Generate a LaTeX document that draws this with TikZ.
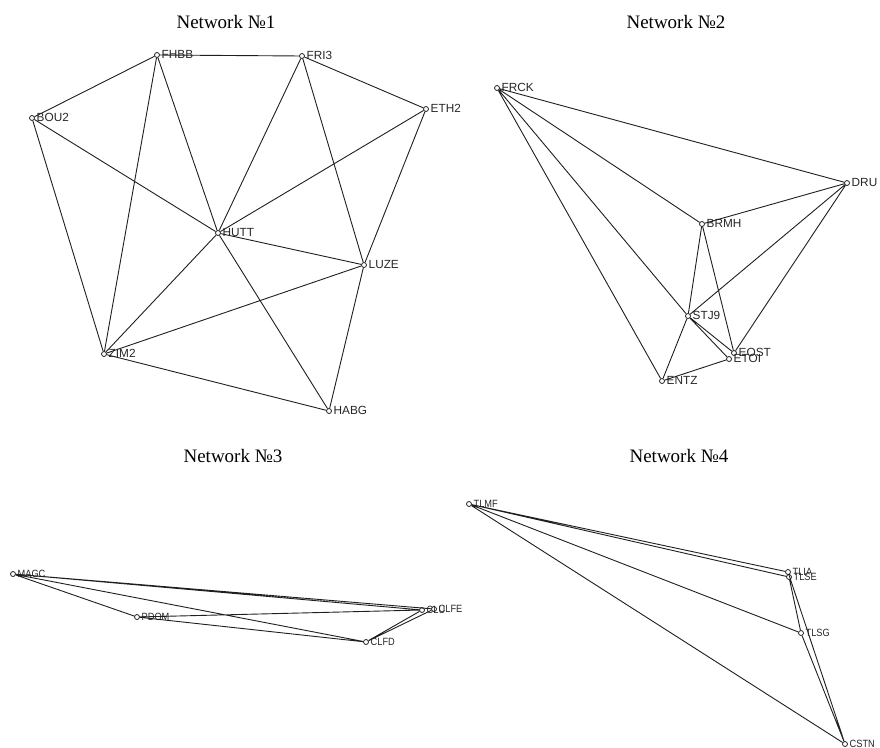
\documentclass[tikz,border=0pt]{standalone}
\usepackage{fontspec}
\setmainfont{Liberation Serif}
\setsansfont{Liberation Sans}
\newfontfamily\narrowsans[FakeStretch=0.88]{Liberation Sans}
\tikzset{
  stnc/.style={circle, draw=black!90, line width=0.75pt, minimum size=5pt, inner sep=0pt},
  lbl/.style={anchor=base west, inner sep=0pt, text=black!85, font=\sffamily\fontsize{11.8}{11.8}\selectfont},
  lblsmall/.style={lbl, font=\narrowsans\fontsize{10.5}{10.5}\selectfont},
  ttl/.style={inner sep=0pt, font=\fontsize{19}{19}\selectfont},
  edge/.style={draw=black!88, line width=0.9pt}
}
\newcommand\mkstn[5]{%
  \node[stnc] (#1) at (#2,#3) {};
  \node[#5] (#1-l) at ([xshift=4.5pt,yshift=-3.8pt]#1.center) {#4};}
\begin{document}
\begin{tikzpicture}[x=1pt,y=-1pt]
\useasboundingbox (0,0) rectangle (880,747);

% titles
\node[ttl] (t1) at (226,22) {Network №1};
\node[ttl] (t2) at (676,22) {Network №2};
\node[ttl] (t3) at (233,456) {Network №3};
\node[ttl] (t4) at (679,456) {Network №4};

% Network 1
\mkstn{FHBB}{157}{55}{FHBB}{lbl}
\mkstn{FRI3}{302}{56}{FRI3}{lbl}
\mkstn{ETH2}{426}{109}{ETH2}{lbl}
\mkstn{BOU2}{32}{118}{BOU2}{lbl}
\mkstn{HUTT}{218}{233}{HUTT}{lbl}
\mkstn{LUZE}{364}{265}{LUZE}{lbl}
\mkstn{ZIM2}{104}{354}{ZIM2}{lbl}
\mkstn{HABG}{329}{411}{HABG}{lbl}
\path[edge] (FHBB)--(FRI3) (FHBB)--(BOU2) (FRI3)--(ETH2)
  (BOU2)--(ZIM2) (BOU2)--(HUTT) (FHBB)--(ZIM2) (FHBB)--(HUTT)
  (FRI3)--(HUTT) (FRI3)--(LUZE) (ETH2)--(HUTT) (ETH2)--(LUZE)
  (HUTT)--(LUZE) (HUTT)--(ZIM2) (HUTT)--(HABG) (LUZE)--(ZIM2)
  (LUZE)--(HABG) (ZIM2)--(HABG);

% Network 2
\mkstn{FRCK}{497}{88}{FRCK}{lbl}
\mkstn{DRU}{847}{183}{DRU}{lbl}
\mkstn{BRMH}{702}{224}{BRMH}{lbl}
\mkstn{STJ9}{688}{316}{STJ9}{lbl}
\mkstn{EOST}{734}{353}{EOST}{lbl}
\mkstn{ETOI}{729}{359}{ETOI}{lbl}
\mkstn{ENTZ}{662}{381}{ENTZ}{lbl}
\path[edge] (FRCK)--(DRU) (FRCK)--(BRMH) (FRCK)--(STJ9) (FRCK)--(ENTZ)
  (DRU)--(BRMH) (DRU)--(STJ9) (DRU)--(EOST) (BRMH)--(STJ9)
  (BRMH)--(EOST) (STJ9)--(ENTZ) (STJ9)--(EOST) (STJ9)--(ETOI)
  (ENTZ)--(ETOI);

% Network 3
\mkstn{MAGC}{13}{574}{MAGC}{lblsmall}
\mkstn{PDOM}{137}{617}{PDOM}{lblsmall}
\mkstn{CLFD}{366}{642}{CLFD}{lblsmall}
\mkstn{CLUA}{422}{610}{CLU}{lblsmall}
\mkstn{CLFE}{434}{609}{CLFE}{lblsmall}
\path[edge] (MAGC)--(CLUA) (MAGC)--(CLFE) (MAGC)--(PDOM) (MAGC)--(CLFD)
  (PDOM)--(CLUA) (PDOM)--(CLFD) (CLFD)--(CLUA) (CLFD)--(CLFE);

% Network 4
\mkstn{TLMF}{469}{504}{TLMF}{lblsmall}
\mkstn{TLIA}{788}{572}{TLIA}{lblsmall}
\mkstn{TLSE}{789}{577}{TLSE}{lblsmall}
\mkstn{TLSG}{801}{633}{TLSG}{lblsmall}
\mkstn{CSTN}{845}{744}{CSTN}{lblsmall}
\path[edge] (TLMF)--(TLIA) (TLMF)--(TLSE) (TLMF)--(TLSG) (TLMF)--(CSTN)
  (TLIA)--(TLSE) (TLSE)--(TLSG) (TLSG)--(CSTN) (TLIA)--(CSTN);
\end{tikzpicture}
\end{document}
